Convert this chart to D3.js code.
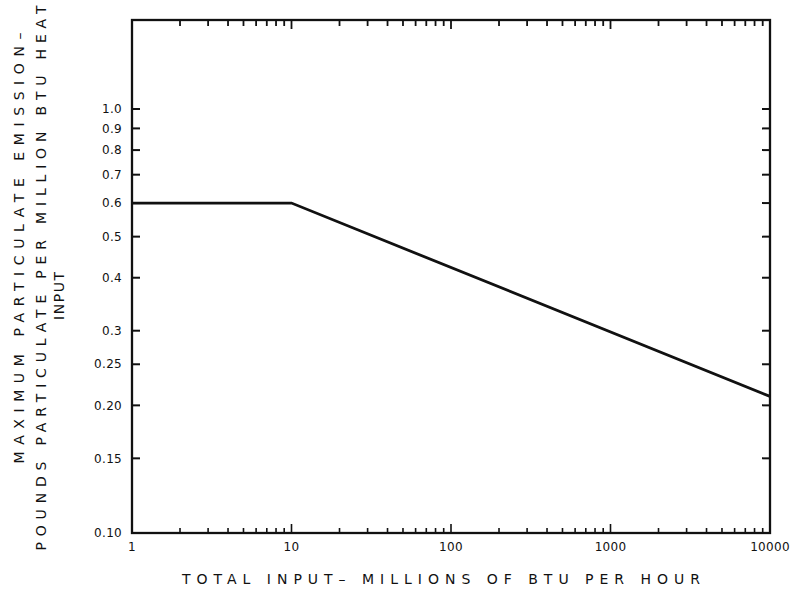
<!DOCTYPE html>
<html>
<head>
<meta charset="utf-8">
<script src="https://cdn.jsdelivr.net/npm/d3@7"></script>
<style>
  html, body { margin: 0; padding: 0; background: #fff; }
  svg { display: block; }
  text { font-family: "DejaVu Sans", sans-serif; fill: #111; }
</style>
</head>
<body>
<svg id="chart" width="807" height="597"></svg>
<script>
// ---- data ----
const heatInput = [1, 10, 10000];          // millions of BTU per hour
const maxEmission = [0.6, 0.6, 0.21];      // lb particulate per million BTU
const yTickValues = [1.0, 0.9, 0.8, 0.7, 0.6, 0.5, 0.4, 0.3, 0.25, 0.20, 0.15, 0.10];
const yTickLabels = ["1.0", "0.9", "0.8", "0.7", "0.6", "0.5", "0.4", "0.3", "0.25", "0.20", "0.15", "0.10"];
const xTickValues = [1, 10, 100, 1000, 10000];
const xTickLabels = ["1", "10", "100", "1000", "10000"];
const xTitle = "TOTAL  INPUT\u2013 MILLIONS  OF  BTU  PER  HOUR";
const yTitleLines = ["MAXIMUM  PARTICULATE  EMISSION\u2013", "POUNDS  PARTICULATE  PER  MILLION  BTU  HEAT", "INPUT"];

// ---- layout ----
const svg = d3.select("#chart");
const L = 132, R = 770, T = 20, B = 533;

const x = d3.scaleLog().domain([1, 10000]).range([L, R]);
const y = d3.scaleLog().domain([0.1, 1.0]).range([B, B - 424]);

const g = svg.append("g");

// frame
g.append("rect").attr("x", L).attr("y", T).attr("width", R - L).attr("height", B - T)
  .attr("fill", "none").attr("stroke", "#111").attr("stroke-width", 2.3);

// minor log ticks on top and bottom
const minor = [];
for (let d = 1; d < 10000; d *= 10) for (let k = 1; k <= 9; k++) minor.push(d * k);
minor.push(10000);
const isDecade = d => Math.abs(Math.log10(d) - Math.round(Math.log10(d))) < 1e-9;

g.selectAll("line.topTick").data(minor).join("line")
  .attr("x1", d => x(d)).attr("x2", d => x(d))
  .attr("y1", T).attr("y2", d => T + (isDecade(d) ? 9 : 6))
  .attr("stroke", "#111").attr("stroke-width", 1.8);

g.selectAll("line.botTick").data(minor).join("line")
  .attr("x1", d => x(d)).attr("x2", d => x(d))
  .attr("y1", B).attr("y2", d => B - (isDecade(d) ? 9 : 5))
  .attr("stroke", "#111").attr("stroke-width", 1.6);

// left & right y ticks (inward)
g.selectAll("line.lTick").data(yTickValues).join("line")
  .attr("x1", L).attr("x2", L + 8)
  .attr("y1", d => y(d)).attr("y2", d => y(d))
  .attr("stroke", "#111").attr("stroke-width", 2);
g.selectAll("line.rTick").data(yTickValues.slice(0, -1)).join("line")
  .attr("x1", R).attr("x2", R - 8)
  .attr("y1", d => y(d)).attr("y2", d => y(d))
  .attr("stroke", "#111").attr("stroke-width", 2);

// y tick labels
g.selectAll("text.yl").data(yTickValues).join("text")
  .attr("x", L - 10).attr("y", d => y(d))
  .attr("dy", "0.35em").attr("text-anchor", "end")
  .attr("font-size", 12).attr("letter-spacing", 0.3)
  .text((d, i) => yTickLabels[i]);

// x tick labels
g.selectAll("text.xl").data(xTickValues).join("text")
  .attr("x", d => x(d)).attr("y", B + 18)
  .attr("text-anchor", "middle")
  .attr("font-size", 12).attr("letter-spacing", 0.3)
  .text((d, i) => xTickLabels[i]);

// curve
const line = d3.line().x(d => x(d[0])).y(d => y(d[1]));
g.append("path")
  .datum(heatInput.map((v, i) => [v, maxEmission[i]]))
  .attr("d", line).attr("fill", "none")
  .attr("stroke", "#111").attr("stroke-width", 2.8);

// x title
g.append("text").attr("x", 441).attr("y", 584).attr("text-anchor", "middle")
  .attr("font-size", 14).attr("textLength", 518).attr("lengthAdjust", "spacing")
  .text(xTitle);

// y title (rotated)
const yTitlePos = [{cx: 24, cy: 248, len: 431}, {cx: 46, cy: 278, len: 545}, {cx: 64, cy: 296, len: 48}];
yTitleLines.forEach((t, i) => {
  const p = yTitlePos[i];
  g.append("text")
    .attr("transform", `translate(${p.cx},${p.cy}) rotate(-90)`)
    .attr("text-anchor", "middle")
    .attr("font-size", 14)
    .attr("textLength", p.len).attr("lengthAdjust", "spacing")
    .text(t);
});
</script>
</body>
</html>
